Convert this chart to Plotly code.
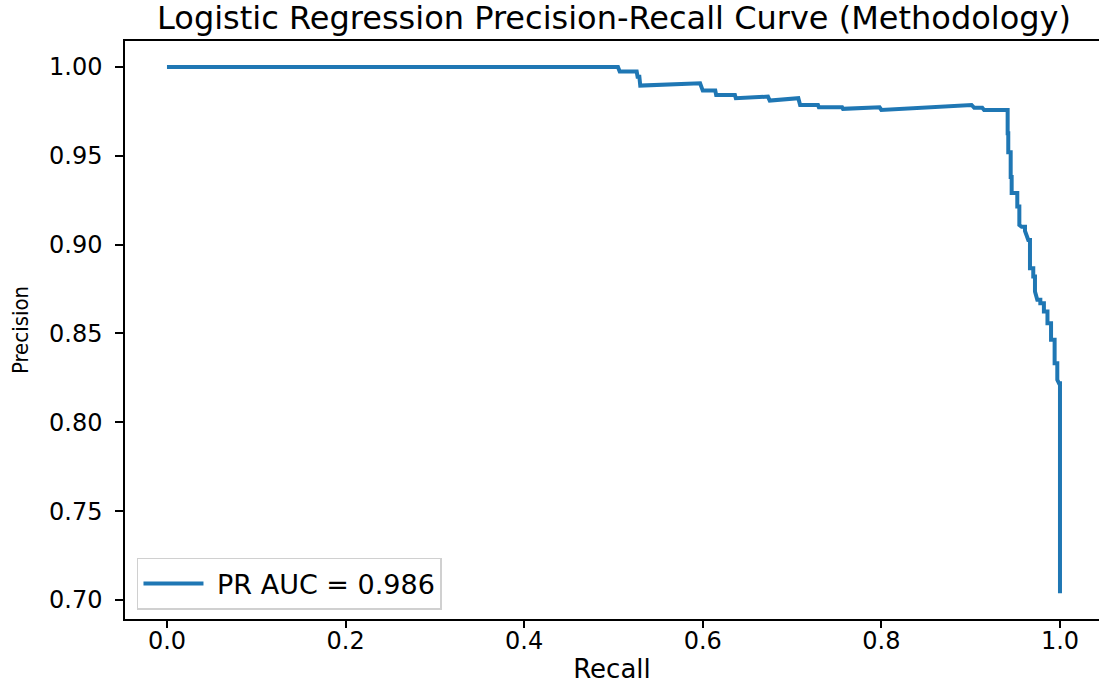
import plotly.graph_objects as go

recall = [0.0, 0.505, 0.507, 0.526, 0.527, 0.529, 0.530, 0.597, 0.600, 0.614, 0.615, 0.636, 0.637,
          0.673, 0.675, 0.707, 0.709, 0.729, 0.730, 0.756, 0.757, 0.798, 0.800, 0.901, 0.904, 0.913,
          0.915, 0.9414, 0.9414, 0.9421, 0.9421, 0.9448, 0.9448, 0.9459, 0.9459, 0.9515, 0.9522,
          0.9522, 0.9545, 0.9545, 0.9571, 0.9608, 0.9608, 0.9645, 0.9664, 0.9664, 0.9701, 0.9701,
          0.972, 0.972, 0.9746, 0.978, 0.978, 0.982, 0.982, 0.986, 0.986, 0.990, 0.990, 0.994,
          0.994, 0.997, 0.997, 0.9989, 1.0, 1.0]
precision = [1.0, 1.0, 0.9974, 0.9974, 0.9945, 0.9945, 0.9895, 0.9908, 0.9867, 0.9867, 0.9842, 0.9842, 0.9824,
             0.9833, 0.9811, 0.9824, 0.9786, 0.9786, 0.9773, 0.9773, 0.9764, 0.9773, 0.9758, 0.9786, 0.9770, 0.9770,
             0.9758, 0.9758, 0.9627, 0.9627, 0.952, 0.952, 0.938, 0.938, 0.929, 0.929, 0.929,
             0.9214, 0.9214, 0.911, 0.910, 0.910, 0.9077, 0.9026, 0.9026, 0.8867, 0.8867, 0.882,
             0.882, 0.8736, 0.869, 0.869, 0.867, 0.867, 0.8623, 0.8623, 0.8557, 0.8557, 0.8464, 0.8464,
             0.8333, 0.8333, 0.8239, 0.822, 0.822, 0.7038]

pr_auc = 0.986
x_ticks = [0.0, 0.2, 0.4, 0.6, 0.8, 1.0]
y_ticks = [0.70, 0.75, 0.80, 0.85, 0.90, 0.95, 1.00]

FONT = "DejaVu Sans"

fig = go.Figure()
fig.add_trace(go.Scatter(
    x=recall, y=precision, mode="lines",
    line=dict(color="#1f77b4", width=4),
    name=f"\u00a0PR AUC = {pr_auc:.3f}",
))

fig.update_layout(
    width=1099, height=684,
    margin=dict(l=125, r=0, t=41, b=65),
    paper_bgcolor="white", plot_bgcolor="white",
    font=dict(family=FONT, size=24, color="black"),
    title=dict(text="Logistic Regression Precision-Recall Curve (Methodology)",
               x=0.5587, xanchor="center", y=0.974, yanchor="middle",
               font=dict(family=FONT, size=32, color="black")),
    showlegend=True,
    legend=dict(x=0.0123, y=0.0156, xanchor="left", yanchor="bottom",
                bgcolor="rgba(255,255,255,0.8)", bordercolor="#d0d0d0", borderwidth=1.5,
                font=dict(family=FONT, size=27, color="black"),
                itemwidth=60),
)
fig.update_xaxes(
    range=[-0.047, 1.0437], tickvals=x_ticks, ticktext=[f"{v:.1f}" for v in x_ticks],
    showgrid=False, zeroline=False, showline=True, linecolor="black", linewidth=1.5,
    mirror=True, ticks="outside", ticklen=7, tickwidth=1.5, tickcolor="black",
    tickfont=dict(family=FONT, size=24), ticklabelstandoff=-8,
    title=dict(text="Recall", font=dict(family=FONT, size=26), standoff=12),
)
fig.update_yaxes(
    range=[0.6893, 1.0146], tickvals=y_ticks, ticktext=[f"{v:.2f}" for v in y_ticks],
    showgrid=False, zeroline=False, showline=True, linecolor="black", linewidth=1.5,
    mirror=False, ticks="outside", ticklen=8, tickwidth=1.5, tickcolor="black",
    tickfont=dict(family=FONT, size=24), ticklabelstandoff=8,
    title=dict(text="Precision", font=dict(family="DejaVu Sans Condensed, DejaVu Sans", size=22), standoff=14),
)

fig.write_html("out.html")
